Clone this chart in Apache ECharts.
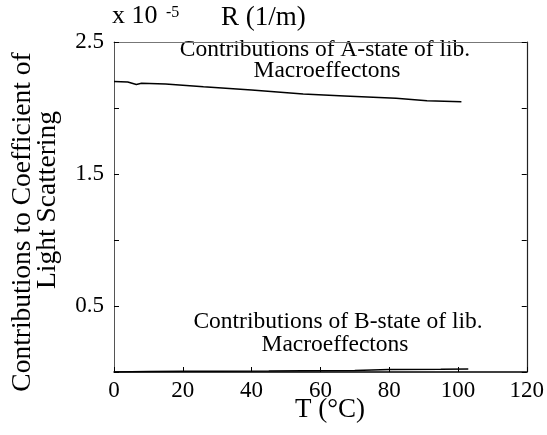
<!DOCTYPE html>
<html>
<head>
<meta charset="utf-8">
<script src="https://cdn.jsdelivr.net/npm/echarts@6/dist/echarts.min.js"></script>
<style>
  html, body { margin: 0; padding: 0; background: #fff; }
  #chart { width: 547px; height: 435px; }
</style>
</head>
<body>
<div id="chart"></div>
<script>
// values in units of 1e-5 1/m
var tempA = [0, 4, 6.5, 8, 15, 26, 40, 55, 67, 82, 91, 101];
var valA = [2.20, 2.197, 2.178, 2.187, 2.182, 2.161, 2.136, 2.106, 2.091, 2.073, 2.055, 2.047];
var tempB = [0, 10, 20, 30, 45, 55, 70, 80, 95, 103];
var valB = [0, 0.003, 0.005, 0.006, 0.008, 0.01, 0.012, 0.018, 0.02, 0.022];
var xTicks = [0, 20, 40, 60, 80, 100, 120];
var yLabelled = [0.5, 1.5, 2.5];

var serif = "'Liberation Serif', 'DejaVu Serif', serif";

function pairs(xs, ys) {
  var out = [];
  for (var i = 0; i < xs.length; i++) out.push([xs[i], ys[i]]);
  return out;
}

var myChart = echarts.init(document.getElementById("chart"));

var option = {
  backgroundColor: "#fff",
  animation: false,
  grid: { left: 114, right: 13, top: 42, bottom: 63 },
  xAxis: [
    {
      type: "value",
      min: xTicks[0],
      max: xTicks[xTicks.length - 1],
      interval: 20,
      axisLine: { show: true, onZero: false, lineStyle: { color: "#000", width: 1.5 } },
      axisTick: { show: true, inside: true, length: 5, lineStyle: { color: "#000" } },
      axisLabel: { fontFamily: serif, fontSize: 23, color: "#000", margin: 7 },
      splitLine: { show: false }
    },
    {
      type: "value",
      position: "top",
      min: 0,
      max: 120,
      interval: 20,
      axisLine: { show: true, onZero: false, lineStyle: { color: "#777", width: 1 } },
      axisTick: { show: false },
      axisLabel: { show: false },
      splitLine: { show: false }
    }
  ],
  yAxis: [
    {
      type: "value",
      min: 0,
      max: 2.5,
      interval: 0.5,
      axisLine: { show: true, onZero: false, lineStyle: { color: "#555", width: 1 } },
      axisTick: { show: true, inside: true, length: 5, lineStyle: { color: "#000" } },
      axisLabel: {
        fontFamily: serif,
        fontSize: 23,
        color: "#000",
        margin: 10,
        formatter: function (v) {
          return yLabelled.indexOf(Math.round(v * 10) / 10) >= 0 ? v.toFixed(1) : "";
        }
      },
      splitLine: { show: false }
    },
    {
      type: "value",
      position: "right",
      min: 0,
      max: 2.5,
      interval: 0.5,
      axisLine: { show: true, onZero: false, lineStyle: { color: "#222", width: 1.2 } },
      axisTick: { show: true, inside: true, length: 5, lineStyle: { color: "#000" } },
      axisLabel: { show: false },
      splitLine: { show: false }
    }
  ],
  series: [
    {
      type: "line",
      data: pairs(tempA, valA),
      showSymbol: false,
      lineStyle: { color: "#000", width: 1.5 }
    },
    {
      type: "line",
      data: pairs(tempB, valB),
      showSymbol: false,
      lineStyle: { color: "#000", width: 1.5 }
    }
  ],
  graphic: [
    { type: "text", x: 112, y: 29, style: { text: "x 10", font: "26px " + serif, fill: "#000", textVerticalAlign: "bottom" } },
    { type: "text", x: 166, y: 21, style: { text: "-5", font: "16px " + serif, fill: "#000", textVerticalAlign: "bottom" } },
    { type: "text", x: 221, y: 31, style: { text: "R (1/m)", font: "27px " + serif, fill: "#000", textVerticalAlign: "bottom" } },
    { type: "text", x: 325, y: 62, style: { text: "Contributions of A-state of lib.", font: "23.5px " + serif, fill: "#000", textAlign: "center", textVerticalAlign: "bottom" } },
    { type: "text", x: 327, y: 83, style: { text: "Macroeffectons", font: "23.5px " + serif, fill: "#000", textAlign: "center", textVerticalAlign: "bottom" } },
    { type: "text", x: 338, y: 334, style: { text: "Contributions of B-state of lib.", font: "23.5px " + serif, fill: "#000", textAlign: "center", textVerticalAlign: "bottom" } },
    { type: "text", x: 335, y: 357, style: { text: "Macroeffectons", font: "23.5px " + serif, fill: "#000", textAlign: "center", textVerticalAlign: "bottom" } },
    { type: "text", x: 330, y: 410, style: { text: "T (°C)", font: "27px " + serif, fill: "#000", textAlign: "center", textVerticalAlign: "middle" } },
    { type: "text", x: 23, y: 222, rotation: Math.PI / 2, style: { text: "Contributions to Coefficient of", font: "27.5px " + serif, fill: "#000", textAlign: "center", textVerticalAlign: "middle" } },
    { type: "text", x: 48, y: 200, rotation: Math.PI / 2, style: { text: "Light Scattering", font: "27.5px " + serif, fill: "#000", textAlign: "center", textVerticalAlign: "middle" } }
  ]
};

myChart.setOption(option);
</script>
</body>
</html>
